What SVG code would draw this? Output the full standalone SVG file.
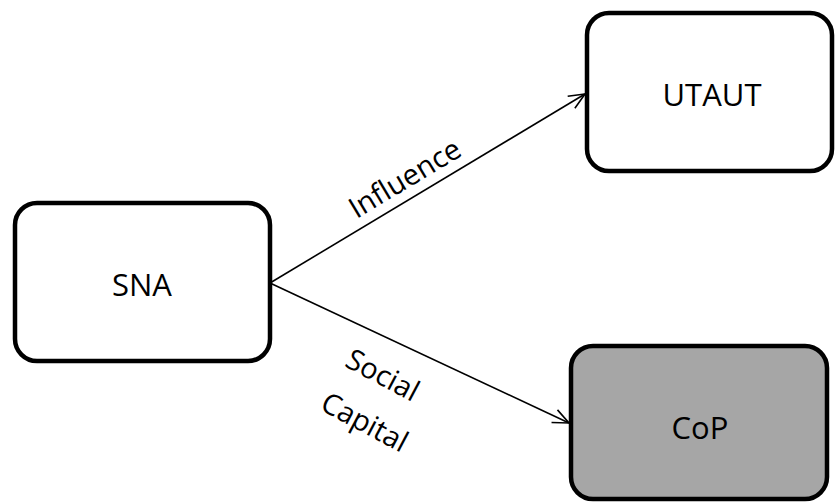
<svg xmlns="http://www.w3.org/2000/svg" width="835" height="502" viewBox="0 0 835 502">
<style>
.box{stroke:#000;stroke-width:4.5}
.lbl{font-family:"Open Sans","Noto Sans",sans-serif;font-size:31px;fill:#000;text-anchor:middle;dominant-baseline:central}
.edge{font-family:"Open Sans","Noto Sans",sans-serif;font-size:29px;fill:#000;text-anchor:middle}
.conn{stroke:#000;stroke-width:1.6;fill:none}
</style>
<defs>
<marker id="arr" viewBox="0 0 20 20" refX="18" refY="10" markerWidth="20" markerHeight="20" markerUnits="userSpaceOnUse" orient="auto">
<path d="M2,3 L18,10 L2,17" fill="none" stroke="#000" stroke-width="1.6"/>
</marker>
</defs>
<rect width="835" height="502" fill="#fff"/>
<g id="connectors">
<line class="conn" x1="270" y1="283" x2="585" y2="94" marker-end="url(#arr)"/>
<line class="conn" x1="270" y1="283" x2="569" y2="423" marker-end="url(#arr)"/>
<text class="edge" transform="translate(410,187) rotate(-31)">Influence</text>
<text class="edge" transform="translate(378,384) rotate(28)">Social</text>
<text class="edge" transform="translate(360,431) rotate(28)">Capital</text>
</g>
<g id="SNA">
<rect class="box" x="15" y="203" width="255" height="158" rx="22" fill="#fff"/>
<text class="lbl" x="142" y="284">SNA</text>
</g>
<g id="UTAUT">
<rect class="box" x="587" y="13" width="245" height="158" rx="22" fill="#fff"/>
<text class="lbl" x="712" y="94">UTAUT</text>
</g>
<g id="CoP">
<rect class="box" x="571" y="346" width="256" height="153" rx="22" fill="#a6a6a6"/>
<text class="lbl" x="700" y="427">CoP</text>
</g>
</svg>
